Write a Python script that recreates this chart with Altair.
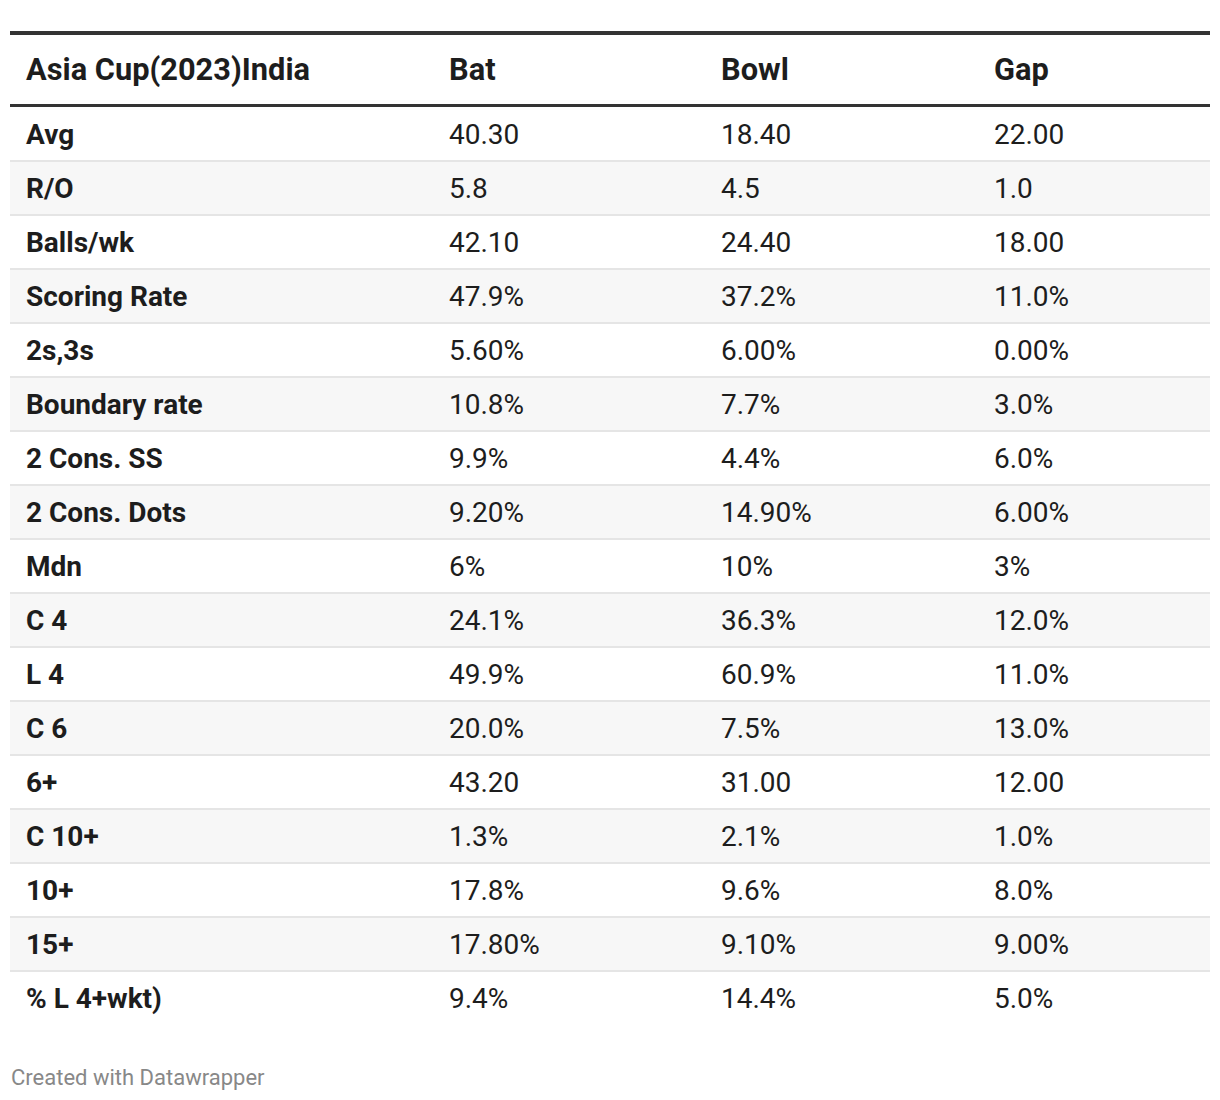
import altair as alt
import pandas as pd

rows = ["Avg", "R/O", "Balls/wk", "Scoring Rate", "2s,3s", "Boundary rate", "2 Cons. SS",
        "2 Cons. Dots", "Mdn", "C 4", "L 4", "C 6", "6+", "C 10+", "10+", "15+", "% L 4+wkt)"]
bat = ["40.30", "5.8", "42.10", "47.9%", "5.60%", "10.8%", "9.9%", "9.20%", "6%", "24.1%",
       "49.9%", "20.0%", "43.20", "1.3%", "17.8%", "17.80%", "9.4%"]
bowl = ["18.40", "4.5", "24.40", "37.2%", "6.00%", "7.7%", "4.4%", "14.90%", "10%", "36.3%",
        "60.9%", "7.5%", "31.00", "2.1%", "9.6%", "9.10%", "14.4%"]
gap = ["22.00", "1.0", "18.00", "11.0%", "0.00%", "3.0%", "6.0%", "6.00%", "3%", "12.0%",
       "11.0%", "13.0%", "12.00", "1.0%", "8.0%", "9.00%", "5.0%"]
headers = ["Asia Cup(2023)India", "Bat", "Bowl", "Gap"]
footer = "Created with Datawrapper"

W, H = 1200, 1090
ROW_TOP, ROW_BOT = 99, 1017
COL_X = [16, 439, 711, 984]
FONT = "Roboto"
FS = 28
HFS = 30.8

df = pd.DataFrame({"row": rows, "bat": bat, "bowl": bowl, "gap": gap,
                   "idx": list(range(len(rows)))})
df["stripe"] = df["idx"] % 2 == 1
df["last"] = df["idx"] == len(rows) - 1

yscale = alt.Scale(domain=rows, range=[ROW_TOP, ROW_BOT], paddingInner=0, paddingOuter=0)
base = alt.Chart(df)

stripes = base.transform_filter("datum.stripe").mark_rect(color="#f7f7f7").encode(
    y=alt.Y("row:N", scale=yscale, axis=None, sort=rows),
    x=alt.value(0), x2=alt.value(W))

seps = base.transform_filter("!datum.last").mark_rule(color="#e5e5e5", strokeWidth=2).encode(
    y=alt.Y("row:N", scale=yscale, axis=None, sort=rows, bandPosition=1),
    x=alt.value(0), x2=alt.value(W))

def col_layer(field, xpos, bold):
    return base.mark_text(align="left", baseline="middle", font=FONT, fontSize=FS, dy=2,
                          fontWeight="bold" if bold else "normal", color="#1d1d1d").encode(
        y=alt.Y("row:N", scale=yscale, axis=None, sort=rows),
        x=alt.value(xpos), text=alt.Text(f"{field}:N"))

cols = [col_layer("row", COL_X[0], True), col_layer("bat", COL_X[1], False),
        col_layer("bowl", COL_X[2], False), col_layer("gap", COL_X[3], False)]

hdf = pd.DataFrame({"h": headers, "k": list(range(4))})
header_layers = []
for i, h in enumerate(headers):
    header_layers.append(
        alt.Chart(hdf).transform_filter(f"datum.k == {i}").mark_text(
            align="left", baseline="middle", font=FONT, fontSize=HFS, fontWeight="bold",
            color="#1d1d1d").encode(x=alt.value(COL_X[i]), y=alt.value(63), text="h:N"))

top_line = alt.Chart(hdf).transform_filter("datum.k == 0").mark_rule(
    color="#333333", strokeWidth=4).encode(x=alt.value(0), x2=alt.value(W), y=alt.value(25))
head_line = alt.Chart(hdf).transform_filter("datum.k == 0").mark_rule(
    color="#333333", strokeWidth=3).encode(x=alt.value(0), x2=alt.value(W), y=alt.value(97.5))

fdf = pd.DataFrame({"f": [footer]})
foot = alt.Chart(fdf).mark_text(align="left", baseline="middle", font=FONT, fontSize=22,
                                color="#888888").encode(
    x=alt.value(1), y=alt.value(1070), text="f:N")

chart = alt.layer(stripes, seps, *cols, *header_layers, top_line, head_line, foot).properties(
    width=W, height=H, padding={"left": 2, "top": 0, "right": 0, "bottom": 0},
    autosize="none"
).configure_view(stroke=None)

chart.save("out.html", embed_options={"renderer": "svg", "actions": False})
